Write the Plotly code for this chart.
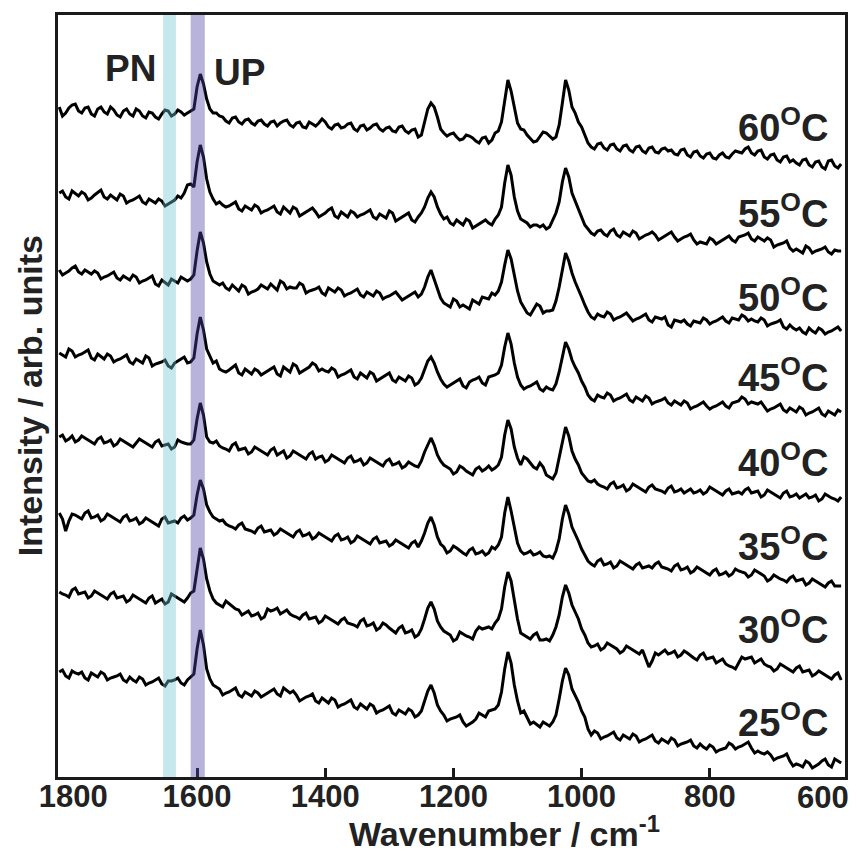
import plotly.graph_objects as go

# Wavenumber grid (cm^-1), 1815 -> 595 in steps of 5
wavenumber = list(range(1815, 594, -5))

temperatures = ["25", "30", "35", "40", "45", "50", "55", "60"]
offsets = [0, 80, 160, 240, 320, 400, 480, 560]
label_y = [57, 150, 233, 317, 402, 482, 566, 652]

# Each spectrum: values at 1815,1805,...,595 ("main") and at 1810,1800,...,600 ("mid")
main_25 = [105,101,106,103,99,104,100,103,99,101,
           97,100,95,98,94,97,93,96,97,94,
           97,103,147,108,92,88,84,87,82,85,
           81,84,82,86,83,89,84,82,78,81,
           76,79,74,77,72,75,70,73,68,71,
           66,69,64,67,63,66,62,75,92,72,
           62,58,60,55,53,58,62,66,68,85,
           125,92,64,60,55,50,53,55,78,109,
           88,75,60,42,44,40,43,39,42,38,
           41,37,40,36,38,34,37,33,35,31,
           33,28,30,27,29,32,30,33,29,26,
           23,22,19,21,16,13,10,14,11,16,
           12,18,14]
mid_25 = [107,99,104,105,97,102,105,97,100,103,
          95,97,100,92,95,99,91,96,99,92,
          100,128,132,98,90,82,85,89,80,83,
          86,80,84,88,81,86,86,76,80,83,
          74,76,79,70,73,77,68,70,73,64,
          67,71,62,65,68,60,66,86,84,66,
          56,59,62,51,55,64,60,67,72,108,
          114,76,66,53,52,55,51,62,96,102,
          82,66,48,46,38,41,45,37,40,43,
          35,38,42,34,36,39,31,34,37,29,
          30,32,25,28,34,28,31,35,24,24,
          25,17,20,23,11,12,16,9,13,18,
          10,16]

main_30 = [105,102,107,103,105,101,104,100,103,99,
           101,97,100,96,99,94,98,95,101,97,
           99,106,149,118,98,92,96,90,87,84,
           81,84,80,86,89,85,83,80,82,78,
           80,76,79,75,77,74,72,76,71,74,
           69,72,66,69,64,67,62,78,95,76,
           66,62,58,63,60,66,68,70,74,88,
           125,97,64,60,62,57,58,62,82,112,
           92,78,62,50,53,49,52,48,46,49,
           45,47,30,44,45,43,46,42,44,39,
           42,38,40,36,33,30,34,38,40,36,
           33,30,28,31,27,29,25,27,23,24,
           20,22,17]
mid_30 = [103,100,109,104,99,106,102,98,105,100,
          95,102,98,94,101,96,93,103,99,95,
          104,130,138,106,94,90,93,88,82,86,
          82,78,88,87,83,87,81,78,84,79,
          74,81,77,73,79,73,70,78,72,67,
          74,69,64,71,65,60,68,89,88,70,
          64,56,65,61,58,70,69,68,78,110,
          116,78,62,58,64,57,56,70,100,104,
          85,68,54,51,47,54,50,44,51,47,
          43,38,36,42,47,44,40,46,41,37,
          44,39,34,38,31,28,40,39,34,38,
          31,26,33,29,25,31,26,21,26,22,
          18,24]

main_35 = [104,86,103,100,104,99,102,98,101,97,
           100,96,99,95,97,93,98,94,96,99,
           97,102,137,112,100,96,93,90,92,88,
           86,89,85,87,84,86,82,85,81,84,
           80,82,78,81,77,80,76,79,75,78,
           74,76,73,75,71,74,70,84,100,80,
           70,66,69,64,67,63,66,64,68,80,
           120,88,66,64,62,65,60,59,78,112,
           90,76,62,53,56,52,55,51,54,50,
           52,49,51,53,50,48,51,47,50,46,
           48,44,46,42,45,43,46,44,42,45,
           41,38,40,37,39,36,38,34,36,32,
           34,31,31]
mid_35 = [98,96,102,98,106,100,96,103,99,95,
          102,97,93,99,95,91,100,95,94,101,
          99,122,128,105,98,97,91,88,94,87,
          84,91,86,82,88,84,80,87,82,78,
          84,80,76,83,78,74,81,77,73,80,
          75,71,77,73,69,76,76,94,92,73,
          64,71,66,62,69,64,62,70,72,104,
          106,74,63,66,63,61,61,66,98,103,
          82,68,56,51,58,53,49,56,52,48,
          54,50,49,55,49,46,53,48,44,50,
          46,42,48,43,41,48,45,40,47,43,
          36,42,38,35,41,37,32,38,34,30,
          36,31]

main_40 = [100,96,101,97,99,95,98,94,97,93,
           96,92,94,96,92,95,91,93,90,95,
           93,97,134,100,94,91,88,92,87,89,
           85,88,84,87,82,86,81,84,80,83,
           78,81,77,80,76,79,75,78,74,77,
           73,76,72,75,71,73,70,85,99,82,
           72,68,65,69,64,68,66,71,69,80,
           117,90,72,78,70,74,62,58,80,110,
           86,72,60,55,53,50,53,49,52,48,
           51,47,50,48,46,49,45,48,46,44,
           47,45,48,44,46,43,45,47,44,46,
           42,45,41,44,40,43,41,39,42,38,
           41,38,40]
mid_40 = [102,98,95,101,97,93,100,95,91,98,
          94,90,98,94,90,97,92,88,97,94,
          93,118,122,95,96,89,86,94,88,83,
          90,86,82,89,84,79,86,82,78,85,
          80,75,82,78,74,81,76,72,79,75,
          71,78,73,69,75,71,76,93,92,76,
          70,63,71,66,62,70,68,67,72,102,
          108,79,80,74,68,70,60,64,97,101,
          78,64,56,57,51,48,55,50,46,53,
          49,45,52,47,44,51,46,44,48,45,
          43,50,46,42,48,44,43,49,45,40,
          47,43,39,46,41,39,43,40,36,43,
          39,36]

main_45 = [104,100,106,102,105,99,103,98,101,97,
           100,95,98,94,99,93,95,91,94,98,
           94,99,140,108,94,88,85,90,84,88,
           83,86,84,88,83,90,85,91,86,90,
           92,88,85,87,82,85,80,84,79,83,
           78,82,77,80,76,79,74,88,100,85,
           73,72,76,71,75,78,74,80,82,92,
           124,94,72,70,73,68,70,67,85,115,
           97,84,70,58,62,59,62,58,61,57,
           60,56,59,55,57,54,56,52,54,50,
           53,51,50,53,51,54,56,58,55,53,
           50,48,51,47,49,45,48,44,47,43,
           46,42,45]
mid_45 = [102,108,100,103,107,97,100,103,95,98,
          102,93,96,101,91,94,97,89,96,100,
          95,123,127,100,96,86,87,92,82,85,
          88,82,86,90,81,87,93,84,88,94,
          86,86,89,80,83,87,78,81,85,76,
          80,84,75,78,81,72,79,96,94,78,
          70,74,78,69,77,80,72,81,84,110,
          113,80,68,71,75,66,68,73,102,108,
          90,76,62,56,60,64,56,59,63,55,
          58,61,53,56,59,52,54,56,48,51,
          55,48,51,55,49,55,60,53,54,55,
          46,49,53,45,47,50,42,45,49,41,
          44,47]

main_50 = [107,104,109,105,107,103,104,100,103,99,
           101,97,100,96,99,93,97,92,96,100,
           96,102,145,115,96,92,89,92,86,90,
           85,88,90,93,87,94,90,89,92,86,
           88,84,89,85,87,83,86,82,85,81,
           84,80,83,81,79,83,80,90,107,88,
           74,70,76,72,68,75,80,78,82,95,
           127,100,75,64,68,71,66,67,90,124,
           104,88,72,60,63,60,63,59,62,60,
           58,61,57,60,58,52,57,55,53,56,
           54,57,55,58,56,59,57,60,58,55,
           57,53,55,50,52,47,45,49,44,47,
           45,48,46]
mid_50 = [102,106,111,103,105,106,98,101,105,97,
          99,102,94,97,101,91,94,98,94,98,
          98,126,134,103,94,94,87,89,92,83,
          86,92,88,90,96,88,89,94,84,87,
          90,82,87,89,81,84,88,80,83,86,
          78,81,85,77,81,85,83,100,98,79,
          72,78,70,70,77,73,79,84,86,112,
          118,86,70,62,73,64,66,76,108,116,
          95,80,65,58,61,65,57,60,64,56,
          59,63,55,59,60,50,56,57,51,55,
          59,53,56,60,54,58,62,56,56,59,
          51,54,57,48,49,49,43,46,49,43,
          46,50]

main_55 = [104,100,106,101,103,99,105,100,102,97,
           101,96,99,95,98,94,96,93,97,99,
           112,110,152,118,98,95,90,93,88,91,
           87,90,86,89,85,90,84,88,83,87,
           85,82,87,81,85,80,84,82,85,80,
           83,79,84,78,82,77,80,90,105,90,
           78,74,77,72,76,71,75,74,78,90,
           132,100,78,74,72,70,68,77,95,129,
           104,88,72,64,66,63,66,62,65,61,
           64,60,63,62,59,63,60,58,61,57,
           55,53,57,55,59,57,60,62,58,60,
           56,57,52,54,49,48,44,49,46,48,
           45,47,46]
mid_55 = [106,98,103,105,97,102,107,98,99,103,
          94,97,101,93,96,98,91,95,101,104,
          113,135,140,105,93,92,91,95,86,89,
          92,84,87,91,83,87,90,81,85,89,
          80,84,89,79,82,86,80,83,87,78,
          81,86,76,80,84,75,84,99,100,83,
          80,72,74,78,69,73,77,72,82,114,
          122,86,76,70,72,72,70,84,115,120,
          96,80,68,62,67,61,68,60,63,66,
          58,62,65,57,61,65,56,60,63,53,
          54,59,53,57,61,55,61,64,56,58,
          59,50,53,56,46,46,51,44,47,50,
          43,46]

main_60 = [110,104,112,106,109,103,108,105,110,102,
           106,103,108,101,105,100,103,106,103,105,
           104,108,143,118,104,101,96,99,95,97,
           94,96,93,95,91,96,92,94,90,95,
           91,98,90,92,89,93,88,91,87,92,
           88,89,86,90,86,87,80,95,114,100,
           84,83,80,78,81,76,79,74,84,95,
           137,108,88,82,75,81,84,78,92,137,
           110,95,82,70,73,69,72,68,71,67,
           70,66,69,65,68,66,63,67,62,65,
           61,63,59,62,60,63,65,68,64,66,
           60,62,57,60,55,54,57,52,55,50,
           56,51,53]
mid_60 = [101,109,113,104,110,101,110,103,107,100,
          108,101,106,99,104,98,107,101,107,102,
          106,130,133,108,104,100,94,100,93,98,
          92,97,91,96,94,97,90,95,89,93,
          94,95,88,93,90,94,86,92,89,93,
          86,90,85,91,84,88,82,108,110,88,
          81,84,77,82,79,74,80,77,86,118,
          126,94,87,79,76,85,81,80,114,127,
          104,90,74,68,74,67,73,66,72,65,
          71,64,70,64,69,67,62,68,60,66,
          59,64,58,64,59,66,64,70,62,67,
          58,63,55,61,57,52,58,50,56,48,
          57,49]

mains = [main_25, main_30, main_35, main_40, main_45, main_50, main_55, main_60]
mids = [mid_25, mid_30, mid_35, mid_40, mid_45, mid_50, mid_55, mid_60]

# Highlighted bands (cm^-1)
pn_band = [1653, 1633]
up_band = [1610, 1588]

tick_values = [1800, 1600, 1400, 1200, 1000, 800]
tick_text = ["\u00a01800", "1600", "1400", "1200", "1000", "800"]
edge_label = "600"   # last axis label, placed inside the page as in the original
inner_ticks = [1600, 1400, 1200, 1000, 800]

FONT = "Liberation Sans, Arial, Helvetica, sans-serif"
TXT = "#222222"


def interleave(a, b):
    out = []
    for k in range(len(b)):
        out.append(a[k])
        out.append(b[k])
    out.append(a[-1])
    return out


fig = go.Figure()
for a, b, off in zip(mains, mids, offsets):
    spec = interleave(a, b)
    fig.add_trace(go.Scatter(
        x=wavenumber, y=[v + off for v in spec], mode="lines",
        line=dict(color="black", width=3.0), showlegend=False, hoverinfo="skip"))

fig.add_shape(type="rect", xref="x", yref="paper", x0=pn_band[0], x1=pn_band[1],
              y0=0, y1=1, line_width=0, fillcolor="rgba(110,198,208,0.4)", layer="above")
fig.add_shape(type="rect", xref="x", yref="paper", x0=up_band[0], x1=up_band[1],
              y0=0, y1=1, line_width=0, fillcolor="rgba(75,65,163,0.4)", layer="above")

annotations = []
for t, ly in zip(temperatures, label_y):
    annotations.append(dict(
        x=0.981, xref="paper", xanchor="right", y=ly, yref="y", yanchor="middle",
        text=f"{t}<sup>O</sup>C", showarrow=False,
        font=dict(family=FONT, size=38, color=TXT, weight="bold")))

annotations += [
    dict(x=0.0915, y=0.930, xref="paper", yref="paper", xanchor="center", yanchor="middle",
         text="PN", showarrow=False,
         font=dict(family=FONT, size=37, color=TXT, weight="bold")),
    dict(x=0.231, y=0.924, xref="paper", yref="paper", xanchor="center", yanchor="middle",
         text="UP", showarrow=False,
         font=dict(family=FONT, size=37, color=TXT, weight="bold")),
    dict(x=0.567, y=-0.072, xref="paper", yref="paper", xanchor="center", yanchor="middle",
         text="Wavenumber / cm<sup>-1</sup>",
         showarrow=False, font=dict(family=FONT, size=34, color=TXT, weight="bold")),
    dict(x=-0.0356, y=0.501, xref="paper", yref="paper", xanchor="center", yanchor="middle",
         text="Intensity / arb. units",
         textangle=-90, showarrow=False,
         font=dict(family=FONT, size=34, color=TXT, weight="bold")),
    dict(x=1.0075, y=-0.0265, xref="paper", yref="paper", xanchor="right", yanchor="middle",
         text=edge_label, showarrow=False,
         font=dict(family=FONT, size=31, color=TXT, weight="bold")),
]

fig.update_layout(
    width=857, height=854,
    margin=dict(l=58, r=12, t=15, b=77, autoexpand=False),
    plot_bgcolor="white", paper_bgcolor="white",
    annotations=annotations,
    xaxis=dict(range=[1817, 589], tickvals=tick_values, ticktext=tick_text, ticks="",
               automargin=False,
               ticklabeloverflow="allow", ticklabelstandoff=-10,
               tickfont=dict(family=FONT, size=31, color=TXT, weight="bold"),
               showline=True, linewidth=3, linecolor="#1a1a1a", mirror=True,
               showgrid=False, zeroline=False,
               minor=dict(tickvals=inner_ticks, ticks="inside", ticklen=9,
                          tickwidth=3, tickcolor="#1a1a1a", showgrid=False)),
    yaxis=dict(range=[0, 762], showticklabels=False, ticks="", automargin=False,
               showline=True, linewidth=3, linecolor="#1a1a1a", mirror=True,
               showgrid=False, zeroline=False),
)

fig.write_html("out.html")
